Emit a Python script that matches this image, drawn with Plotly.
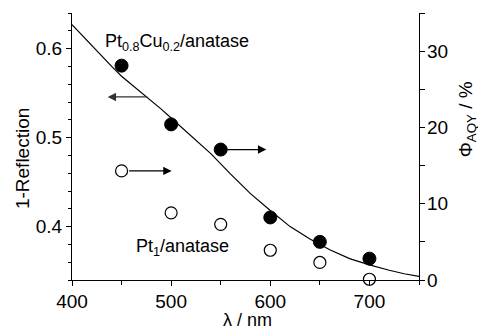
import plotly.graph_objects as go

# Data
wl_pts = [450, 500, 550, 600, 650, 700]
aqy_ptcu = [28.1, 20.4, 17.1, 8.2, 5.0, 2.8]
aqy_pt = [14.3, 8.8, 7.3, 3.9, 2.3, 0.1]

wl_curve = [400, 410, 420, 430, 440, 450, 460, 470, 480, 490, 500, 520, 540, 560, 580, 600,
            620, 640, 660, 680, 700, 720, 735, 750]
refl = [0.627, 0.615, 0.603, 0.591, 0.580, 0.569, 0.560, 0.551, 0.542, 0.532, 0.522, 0.502,
        0.482, 0.459, 0.437, 0.418, 0.400, 0.386, 0.374, 0.364, 0.357, 0.351, 0.347, 0.344]

x_ticks = [400, 500, 600, 700]
y1_ticks = [0.4, 0.5, 0.6]
y2_ticks = [0, 10, 20, 30]

FONT = "Liberation Sans, Arial, sans-serif"

fig = go.Figure()
fig.add_trace(go.Scatter(x=wl_curve, y=refl, mode="lines",
                         line=dict(color="black", width=1.2), yaxis="y", cliponaxis=False,
                         showlegend=False))
fig.add_trace(go.Scatter(x=wl_pts, y=aqy_ptcu, mode="markers", yaxis="y2",
                         marker=dict(size=13, color="black", line=dict(color="black", width=1)),
                         cliponaxis=False, showlegend=False))
fig.add_trace(go.Scatter(x=wl_pts, y=aqy_pt, mode="markers", yaxis="y2",
                         marker=dict(size=12, color="white", line=dict(color="black", width=1.2)),
                         cliponaxis=False, showlegend=False))

axis_common = dict(showline=True, linecolor="black", linewidth=1.2, showgrid=False,
                   zeroline=False, ticks="outside", ticklen=5, tickwidth=1.2, tickcolor="black",
                   tickfont=dict(family=FONT, size=19, color="black"))

fig.update_layout(
    width=478, height=330,
    margin=dict(l=72, r=59, t=13, b=50),
    plot_bgcolor="white", paper_bgcolor="white",
    font=dict(family=FONT, size=18, color="black"),
    xaxis=dict(range=[400, 750], tickvals=x_ticks, ticklabelstandoff=-1,
               minor=dict(dtick=50, tick0=400, ticks="outside", ticklen=4, tickcolor="black", tickwidth=1.2),
               **axis_common),
    yaxis=dict(range=[0.34, 0.64], tickvals=y1_ticks, tickformat=".1f", ticklabelstandoff=0,
               minor=dict(dtick=0.02, tick0=0.34, ticks="outside", ticklen=3, tickcolor="black", tickwidth=1.2),
               **axis_common),
    yaxis2=dict(range=[0, 35], tickvals=y2_ticks, overlaying="y", side="right", anchor="x",
                ticklabelstandoff=-2,
                minor=dict(dtick=5, tick0=0, ticks="outside", ticklen=5, tickcolor="black", tickwidth=1.2),
                **axis_common),
)

ann = []
# axis titles
ann.append(dict(text="1-Reflection", xref="paper", yref="paper", x=-0.144, y=0.453,
                xanchor="center", yanchor="middle",
                textangle=-90, showarrow=False, font=dict(size=19)))
ann.append(dict(text="λ / nm", xref="paper", yref="paper", x=0.505, y=-0.149,
                xanchor="center", yanchor="middle",
                showarrow=False, font=dict(size=18)))
ann.append(dict(text="Φ<sub>AQY</sub> / %", xref="paper", yref="paper", x=1.137, y=0.60,
                xanchor="center", yanchor="middle",
                textangle=-90, showarrow=False, font=dict(size=19)))
# series labels
ann.append(dict(text="Pt<sub>0.8</sub>Cu<sub>0.2</sub>/anatase", xref="paper", yref="paper",
                x=0.089, y=0.888, xanchor="left", yanchor="middle", showarrow=False, font=dict(size=18)))
ann.append(dict(text="Pt<sub>1</sub>/anatase", xref="paper", yref="paper",
                x=0.179, y=0.12, xanchor="left", yanchor="middle", showarrow=False, font=dict(size=18)))
# arrows
ann.append(dict(x=436, y=0.5457, xref="x", yref="y", ax=477.5, ay=0.5457, axref="x", ayref="y",
                text="", showarrow=True, arrowhead=2, arrowsize=1.4, arrowwidth=1.2, arrowcolor="#333"))
ann.append(dict(x=596, y=17.1, xref="x", yref="y2", ax=550, ay=17.1, axref="x", ayref="y2",
                text="", showarrow=True, arrowhead=2, arrowsize=1.4, arrowwidth=1.2, arrowcolor="black"))
ann.append(dict(x=500.5, y=14.3, xref="x", yref="y2", ax=450, ay=14.3, axref="x", ayref="y2",
                text="", showarrow=True, arrowhead=2, arrowsize=1.4, arrowwidth=1.2, arrowcolor="black",
                startstandoff=6))
fig.update_layout(annotations=ann)

fig.write_html("out.html")
